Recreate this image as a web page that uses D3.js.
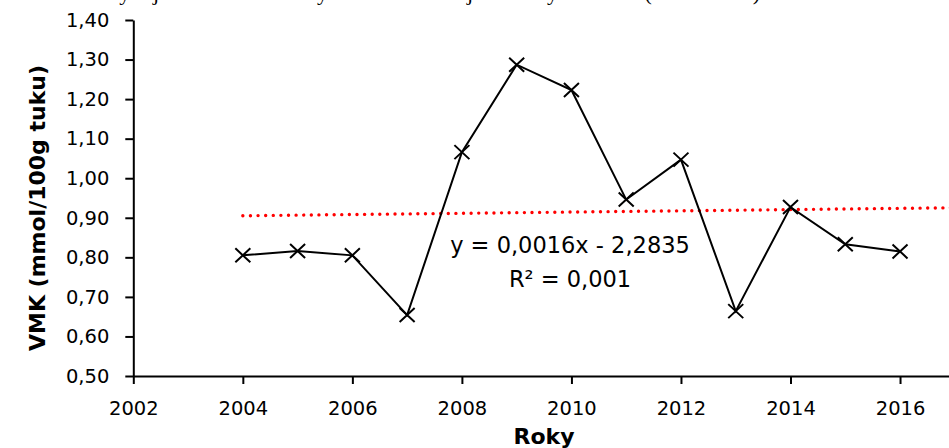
<!DOCTYPE html>
<html>
<head>
<meta charset="utf-8">
<script src="https://cdn.jsdelivr.net/npm/d3@7"></script>
<style>
  body { margin: 0; background: #fff; }
  svg { display: block; }
</style>
</head>
<body>
<script>
// DATA
var years = [2004, 2005, 2006, 2007, 2008, 2009, 2010, 2011, 2012, 2013, 2014, 2015, 2016];
var vmk = [0.805, 0.816, 0.805, 0.654, 1.066, 1.287, 1.223, 0.946, 1.047, 0.664, 0.927, 0.833, 0.815];
var xTicks = [2002, 2004, 2006, 2008, 2010, 2012, 2014, 2016];
var yTicks = [0.5, 0.6, 0.7, 0.8, 0.9, 1.0, 1.1, 1.2, 1.3, 1.4];
var equationText = ["y = 0,0016x - 2,2835", "R² = 0,001"];

var points = years.map(function(d, i){ return {year: d, value: vmk[i]}; });

// D3
var svg = d3.select("body")
    .append("svg")
    .attr("width", 949)
    .attr("height", 448);

// scales (the x axis runs to 2017, just past the right edge)
const xScale = d3.scaleLinear()
    .domain([2002, 2017])
    .range([133.3, 954.8]);

const yScale = d3.scaleLinear()
    .domain([0.5, 1.4])
    .range([376, 20]);

// caption of the document above, only its descenders reach into the picture
svg.append("text")
    .attr("x", 40)
    .attr("y", 0)
    .attr("textLength", 720)
    .attr("font-family", "Liberation Serif")
    .attr("font-size", 22)
    .text("Graf 5 Vývoj obsahu VMK v syrovém mléce v jednotlivých letech (2004–2016)");

// axes
const yAxis = svg.append("g")
    .attr("transform", "translate(" + xScale(2002) + ",0)")
    .call(d3.axisLeft(yScale)
        .tickValues(yTicks)
        .tickFormat(function(d){ return d3.format(".2f")(d).replace(".", ","); })
        .tickSize(8)
        .tickSizeOuter(0)
        .tickPadding(16));

const xAxis = svg.append("g")
    .attr("transform", "translate(0," + yScale(0.5) + ")")
    .call(d3.axisBottom(xScale)
        .tickValues(xTicks)
        .tickFormat(d3.format("d"))
        .tickSize(8)
        .tickSizeOuter(0)
        .tickPadding(17));

svg.selectAll(".domain, .tick line")
    .attr("stroke", "#000")
    .attr("stroke-width", 2);
svg.selectAll(".tick text")
    .attr("font-family", "DejaVu Sans")
    .attr("font-size", 19.5)
    .attr("fill", "#000");

// axis titles
svg.append("text")
    .attr("transform", "translate(45,208) rotate(-90)")
    .attr("text-anchor", "middle")
    .attr("font-family", "DejaVu Sans")
    .attr("font-weight", "bold")
    .attr("font-size", 22)
    .text("VMK (mmol/100g tuku)");

svg.append("text")
    .attr("x", 544)
    .attr("y", 444)
    .attr("text-anchor", "middle")
    .attr("font-family", "DejaVu Sans")
    .attr("font-weight", "bold")
    .attr("font-size", 22)
    .text("Roky");

// linear trend (least squares over the data)
var mx = d3.mean(years), my = d3.mean(vmk);
var slope = d3.sum(points, function(d){ return (d.year - mx) * (d.value - my); }) /
    d3.sum(years, function(d){ return (d - mx) * (d - mx); });
var icpt = my - slope * mx;
var trend = [2004, 2017].map(function(t){ return {year: t, value: icpt + slope * t}; });

const line = d3.line()
    .x(d => xScale(d.year))
    .y(d => yScale(d.value));

svg.append("path")
    .datum(trend)
    .attr("d", line)
    .attr("fill", "none")
    .attr("stroke", "#ff0000")
    .attr("stroke-width", 3.4)
    .attr("stroke-linecap", "round")
    .attr("stroke-dasharray", "0.01 7.6");

// data line and x markers
svg.append("path")
    .datum(points)
    .attr("d", line)
    .attr("fill", "none")
    .attr("stroke", "#000")
    .attr("stroke-width", 2);

svg.selectAll(".marker").data(points)
    .enter()
    .append("path")
    .attr("class", "marker")
    .attr("transform", d => "translate(" + xScale(d.year) + "," + yScale(d.value) + ")")
    .attr("d", "M-7.5,-7L7.5,7M-7.5,7L7.5,-7")
    .attr("fill", "none")
    .attr("stroke", "#000")
    .attr("stroke-width", 2);

// trend equation
svg.selectAll(".eq").data(equationText)
    .enter()
    .append("text")
    .attr("class", "eq")
    .attr("x", 570)
    .attr("y", (d, i) => 252.5 + i * 34)
    .attr("text-anchor", "middle")
    .attr("font-family", "DejaVu Sans")
    .attr("font-size", 22.5)
    .attr("fill", "#000")
    .text(d => d);
</script>
</body>
</html>
